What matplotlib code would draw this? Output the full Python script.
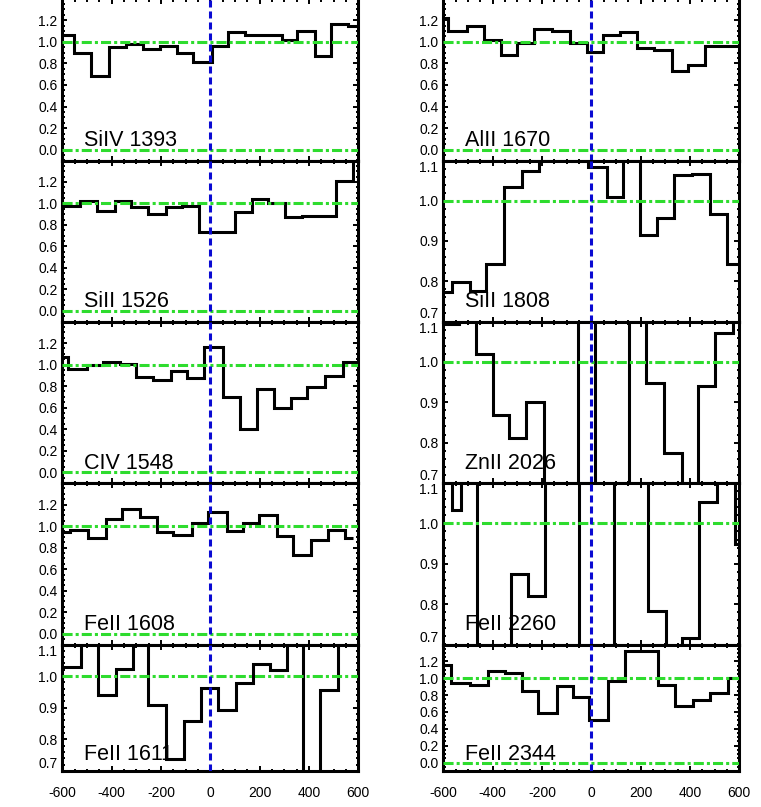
import matplotlib.pyplot as plt
import numpy as np
from matplotlib.ticker import AutoMinorLocator

plt.rcParams['font.family'] = ['Liberation Sans', 'DejaVu Sans']
plt.rcParams['axes.unicode_minus'] = False

# velocity bin edges (km/s) and normalised flux for every line
siiv_1393_edges = [-600, -553, -485, -410, -342, -272, -204, -137, -69, 5, 72, 140, 215, 289, 350, 424, 489, 559, 600]
siiv_1393_flux = [1.06, 0.90, 0.68, 0.95, 0.98, 0.93, 0.96, 0.90, 0.81, 0.96, 1.09, 1.065, 1.06, 1.02, 1.10, 0.87, 1.16, 1.15]

alii_1670_edges = [-600, -580, -503, -435, -367, -300, -232, -161, -86, -19, 49, 116, 184, 254, 326, 393, 461, 531, 600]
alii_1670_flux = [1.22, 1.10, 1.15, 1.02, 0.875, 0.985, 1.115, 1.10, 0.985, 0.905, 1.06, 1.09, 0.94, 0.92, 0.727, 0.78, 0.96, 0.96]

siii_1526_edges = [-600, -528, -461, -386, -322, -254, -181, -113, -46, 26, 100, 168, 235, 303, 370, 438, 508, 580, 600]
siii_1526_flux = [0.98, 1.02, 0.93, 1.02, 0.97, 0.905, 0.963, 0.972, 0.73, 0.73, 0.917, 1.04, 1.003, 0.87, 0.886, 0.886, 1.21, 1.45]

siii_1808_edges = [-600, -566, -492, -427, -354, -282, -212, -145, -80, -12, 62, 130, 197, 268, 336, 407, 481, 549, 600]
siii_1808_flux = [0.773, 0.798, 0.775, 0.842, 1.033, 1.073, 1.13, 1.15, 1.098, 1.083, 1.01, 1.14, 0.914, 0.957, 1.063, 1.067, 0.967, 0.842]

civ_1548_edges = [-600, -576, -501, -434, -366, -301, -231, -161, -93, -26, 50, 120, 191, 258, 326, 393, 465, 539, 600]
civ_1548_flux = [1.07, 0.963, 0.994, 1.02, 1.003, 0.885, 0.86, 0.938, 0.876, 1.165, 0.70, 0.404, 0.77, 0.596, 0.69, 0.79, 0.89, 1.025]

znii_2026_edges = [-600, -536, -467, -397, -332, -265, -192, -123, -53, 15, 85, 154, 222, 295, 366, 434, 501, 576, 600]
znii_2026_flux = [1.094, 1.15, 1.02, 0.868, 0.812, 0.90, 0.62, 0.55, 1.2, 0.5, 0.6, 1.2, 0.948, 0.775, 0.65, 0.94, 1.072, 1.15]

feii_1608_edges = [-600, -569, -494, -423, -359, -285, -217, -150, -76, -8, 66, 134, 197, 269, 336, 407, 478, 546, 577]
feii_1608_flux = [0.944, 0.96, 0.889, 1.068, 1.161, 1.084, 0.944, 0.92, 1.031, 1.13, 0.95, 1.028, 1.099, 0.907, 0.728, 0.867, 0.96, 0.889]

feii_2260_edges = [-600, -566, -528, -462, -394, -326, -258, -188, -120, -50, 22, 93, 161, 231, 301, 366, 436, 508, 583, 600]
feii_2260_flux = [1.15, 1.034, 1.2, 0.6, 0.6, 0.875, 0.819, 1.2, 1.2, 0.6, 0.6, 1.2, 1.2, 0.783, 0.6, 0.717, 1.054, 1.2, 0.948]

feii_1611_edges = [-600, -524, -457, -384, -312, -251, -181, -105, -38, 32, 104, 172, 242, 312, 377, 444, 519, 600]
feii_1611_flux = [1.029, 1.15, 0.94, 1.021, 1.15, 0.909, 0.7375, 0.859, 0.961, 0.892, 0.979, 1.0375, 1.019, 1.15, 0.6, 0.956, 1.15]

feii_2344_edges = [-600, -570, -492, -417, -350, -280, -215, -140, -73, -8, 69, 136, 204, 272, 339, 413, 481, 553, 600]
feii_2344_flux = [1.159, 0.948, 0.92, 1.087, 1.067, 0.849, 0.591, 0.909, 0.782, 0.504, 0.968, 1.317, 1.325, 0.92, 0.675, 0.742, 0.821, 1.008]

# (label, edges, flux, wide y range?, column, row)
panels = [
    ('SiIV 1393', siiv_1393_edges, siiv_1393_flux, True, 0, 0),
    ('AlII 1670', alii_1670_edges, alii_1670_flux, True, 1, 0),
    ('SiII 1526', siii_1526_edges, siii_1526_flux, True, 0, 1),
    ('SiII 1808', siii_1808_edges, siii_1808_flux, False, 1, 1),
    ('CIV 1548', civ_1548_edges, civ_1548_flux, True, 0, 2),
    ('ZnII 2026', znii_2026_edges, znii_2026_flux, False, 1, 2),
    ('FeII 1608', feii_1608_edges, feii_1608_flux, True, 0, 3),
    ('FeII 2260', feii_2260_edges, feii_2260_flux, False, 1, 3),
    ('FeII 1611', feii_1611_edges, feii_1611_flux, False, 0, 4),
    ('FeII 2344', feii_2344_edges, feii_2344_flux, True, 1, 4),
]

W, H = 761, 807
col_left = [62.3, 443.3]
col_width = 296
row_edges = [-1.5, 160.5, 321.5, 483, 644.5, 771]

fig = plt.figure(figsize=(W / 100, H / 100), dpi=100)

green = '#2edc2e'
blue = '#0a0ad2'

for label, edges, flux, wide, col, row in panels:
    top, bottom = row_edges[row], row_edges[row + 1]
    ax = fig.add_axes([col_left[col] / W, 1 - bottom / H, col_width / W, (bottom - top) / H])

    ax.stairs(flux, edges, baseline=None, color='black', lw=2.2, zorder=2)
    ax.axhline(1.0, color=green, lw=2.2, ls=(0, (3.3, 1.0, 1.0, 1.0)), zorder=3)
    if wide:
        ax.axhline(0.0, color=green, lw=2.2, ls=(0, (3.3, 1.0, 1.0, 1.0)), zorder=3)
    ax.axvline(0, color=blue, lw=2.2, ls=(0, (2.3, 1.3)), zorder=4)

    ax.set_xlim(-600, 600)
    ax.set_xticks(np.arange(-600, 601, 200))
    ax.xaxis.set_minor_locator(AutoMinorLocator(4))
    if wide:
        ax.set_ylim(-0.1, 1.4)
        yt = np.arange(0, 1.21, 0.2)
        ax.yaxis.set_minor_locator(AutoMinorLocator(4))
    else:
        ax.set_ylim(0.7, 1.1)
        yt = np.arange(0.7, 1.101, 0.1)
        ax.yaxis.set_minor_locator(AutoMinorLocator(5))
    ax.set_yticks(yt, [f'{v:.1f}' for v in yt])

    ax.tick_params(which='both', direction='in', top=True, right=True, width=1.4)
    ax.tick_params(which='major', length=3.8)
    ax.tick_params(which='minor', length=1.8)
    ax.tick_params(axis='y', labelsize=10, pad=3.5)
    ax.tick_params(axis='x', labelsize=10, pad=11)
    if row < 4:
        ax.tick_params(axis='x', labelbottom=False)
    if not wide:
        # keep the end labels inside the panel, as in the original
        ticks = ax.yaxis.get_major_ticks()
        ticks[0].label1.set_va('bottom')
        ticks[-1].label1.set_va('top')

    for sp in ax.spines.values():
        sp.set_linewidth(2.2)

    ax.text(0.072, 0.087, label, transform=ax.transAxes, fontsize=15.5,
            va='baseline', ha='left', zorder=5)

fig.savefig('out.png', dpi=100)
